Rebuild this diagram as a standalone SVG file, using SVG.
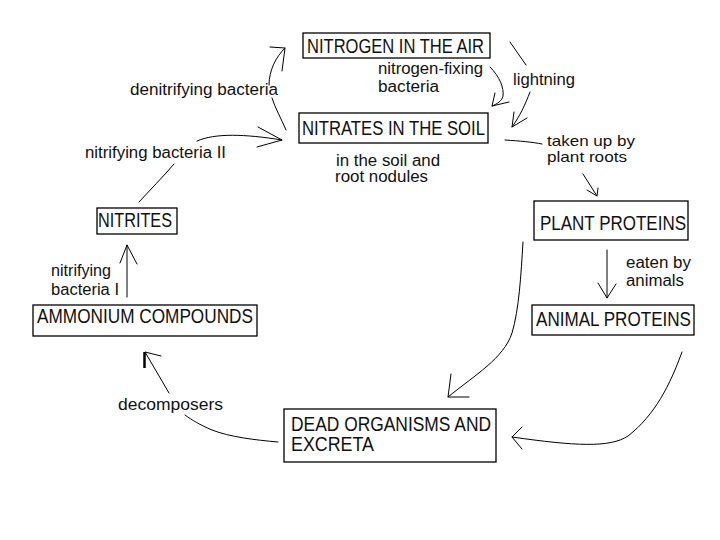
<svg xmlns="http://www.w3.org/2000/svg" width="720" height="540" viewBox="0 0 720 540">
<style>
.box{fill:#fff;stroke:#000;stroke-width:1.3}
.bt{font-family:"Liberation Sans",Arial,sans-serif;font-size:19.5px;fill:#111}
.lt{font-family:"Liberation Sans",Arial,sans-serif;font-size:16px;fill:#111}
.st{font-family:"Liberation Sans",Arial,sans-serif;font-size:14.5px;fill:#111}
.c{fill:none;stroke:#000;stroke-width:1;stroke-linecap:round;stroke-linejoin:round}
</style>
<rect width="720" height="540" fill="#fff"/>
<g id="connectors">
  <!-- denitrifying bacteria: soil -> air -->
  <path class="c" d="M286,130 C281,118 275,108 272,98"/>
  <path class="c" d="M269,85 C269,70 276,57 285,48 M270,47 L285,48 L282,71"/>
  <!-- nitrogen-fixing bacteria: air -> soil -->
  <path class="c" d="M490,67 C500,77 504,88 503,96 C502,101 497,104 492,106 M495,93 L492,106 L509,102"/>
  <!-- lightning -->
  <path class="c" d="M510,42 L526,65"/>
  <path class="c" d="M530,92 C525,105 520,116 512,127 M514,112 L512,127 L527,118"/>
  <!-- taken up by plant roots -->
  <path class="c" d="M505,140 C520,141 532,142 542,144"/>
  <path class="c" d="M583,174 L597,196 M587,190 L597,196 L598,188"/>
  <!-- eaten by animals -->
  <path class="c" d="M607,250 L607,298 M598,283 L607,298 L616,284"/>
  <!-- plant -> dead -->
  <path class="c" d="M523,242 C521,275 519,310 512,333 C504,358 475,375 448,397 M451,374 L448,397 L469,397"/>
  <!-- animal -> dead -->
  <path class="c" d="M682,352 C670,385 655,415 628,436 C610,448 575,446 512,437 M522,427 L512,437 L522,449"/>
  <!-- decomposers: dead -> ammonium -->
  <path class="c" d="M278,442 C255,440 230,437 212,430 C200,425 192,420 185,415"/>
  <path class="c" d="M169,393 L145,352 L161,356"/>
  <path d="M144.5,352 L144.5,368" fill="none" stroke="#000" stroke-width="2.5"/>
  <!-- nitrifying bacteria I: ammonium -> nitrites -->
  <path class="c" d="M127,297 L127,245 M120,263 L127,245 L137,264"/>
  <!-- nitrifying bacteria II: nitrites -> soil -->
  <path class="c" d="M174,164 C162,178 150,190 139,202"/>
  <path class="c" d="M197,141 C215,133 245,134 282,140 M258,127 L282,140 L257,147"/>
</g>
<g id="nitrogen-air">
  <rect class="box" x="303" y="33" width="187" height="25"/>
  <text class="bt" x="307" y="53" textLength="177" lengthAdjust="spacingAndGlyphs">NITROGEN IN THE AIR</text>
</g>
<g id="nitrates-soil">
  <rect class="box" x="299" y="113" width="189" height="30"/>
  <text class="bt" x="302" y="135" textLength="183" lengthAdjust="spacingAndGlyphs">NITRATES IN THE SOIL</text>
</g>
<g id="plant-proteins">
  <rect class="box" x="534" y="201" width="154" height="39"/>
  <text class="bt" x="540" y="230" textLength="146" lengthAdjust="spacingAndGlyphs">PLANT PROTEINS</text>
</g>
<g id="animal-proteins">
  <rect class="box" x="532" y="305" width="162" height="30"/>
  <text class="bt" x="536" y="326" textLength="155" lengthAdjust="spacingAndGlyphs">ANIMAL PROTEINS</text>
</g>
<g id="dead-organisms">
  <rect class="box" x="284" y="409" width="212" height="53"/>
  <text class="bt" x="291" y="431" textLength="200" lengthAdjust="spacingAndGlyphs">DEAD ORGANISMS AND</text>
  <text class="bt" x="291" y="451" textLength="83" lengthAdjust="spacingAndGlyphs">EXCRETA</text>
</g>
<g id="ammonium-compounds">
  <rect class="box" x="33" y="305" width="224" height="31"/>
  <text class="bt" x="37" y="323" textLength="216" lengthAdjust="spacingAndGlyphs">AMMONIUM COMPOUNDS</text>
</g>
<g id="nitrites">
  <rect class="box" x="97" y="208" width="80" height="26"/>
  <text class="bt" x="98" y="227" textLength="74" lengthAdjust="spacingAndGlyphs">NITRITES</text>
</g>
<g id="labels">
  <text class="lt" x="378" y="74" textLength="105" lengthAdjust="spacingAndGlyphs">nitrogen-fixing</text>
  <text class="lt" x="378" y="92" textLength="61" lengthAdjust="spacingAndGlyphs">bacteria</text>
  <text class="lt" x="513" y="85" textLength="62" lengthAdjust="spacingAndGlyphs">lightning</text>
  <text class="lt" x="336" y="166" textLength="104" lengthAdjust="spacingAndGlyphs">in the soil and</text>
  <text class="lt" x="335" y="182" textLength="93" lengthAdjust="spacingAndGlyphs">root nodules</text>
  <text class="st" x="547" y="146" textLength="88" lengthAdjust="spacingAndGlyphs">taken up by</text>
  <text class="st" x="547" y="162" textLength="80" lengthAdjust="spacingAndGlyphs">plant roots</text>
  <text class="lt" x="626" y="268" textLength="65" lengthAdjust="spacingAndGlyphs">eaten by</text>
  <text class="lt" x="626" y="286" textLength="58" lengthAdjust="spacingAndGlyphs">animals</text>
  <text class="lt" x="118" y="410" textLength="105" lengthAdjust="spacingAndGlyphs">decomposers</text>
  <text class="lt" x="51" y="276" textLength="60" lengthAdjust="spacingAndGlyphs">nitrifying</text>
  <text class="lt" x="51" y="295" textLength="68" lengthAdjust="spacingAndGlyphs">bacteria I</text>
  <text class="lt" x="85" y="158" textLength="141" lengthAdjust="spacingAndGlyphs">nitrifying bacteria II</text>
  <text class="lt" x="130" y="95" textLength="148" lengthAdjust="spacingAndGlyphs">denitrifying bacteria</text>
</g>
</svg>
